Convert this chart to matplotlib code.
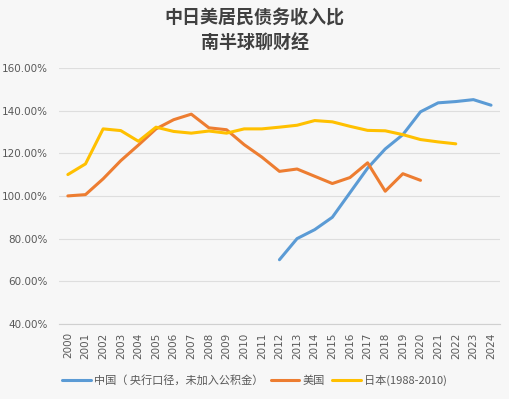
import numpy as np
import matplotlib.pyplot as plt

plt.rcParams['font.family'] = ['Noto Sans CJK SC', 'DejaVu Sans']

years = [str(y) for y in range(2000, 2025)]

# China from 2012, US to 2020, Japan to 2022
china = [None] * 12 + [70.1, 80.0, 84.2, 90.0, 101.5, 113.0, 122.0, 128.7, 139.4, 143.6, 144.2, 145.1, 142.5]
usa = [100.0, 100.6, 108.0, 116.5, 123.8, 131.4, 135.7, 138.3, 131.9, 131.0, 124.0, 118.2, 111.5, 112.6,
       109.2, 105.8, 108.6, 115.5, 102.2, 110.4, 107.3] + [None] * 4
japan = [110.0, 115.0, 131.4, 130.6, 125.6, 132.2, 130.2, 129.4, 130.4, 129.4, 131.4, 131.4, 132.2, 133.1,
         135.3, 134.7, 132.6, 130.7, 130.5, 128.7, 126.4, 125.3, 124.4] + [None] * 2

labels = ['中国（ 央行口径，未加入公积金）', '美国', '日本(1988-2010)']
colors = ['#5B9BD5', '#ED7D31', '#FFC000']


def arr(v):
    return np.array([np.nan if a is None else a for a in v], dtype=float)


fig = plt.figure(figsize=(5.09, 3.99), dpi=100)
fig.patch.set_facecolor('#F7F7F7')
ax = fig.add_axes([0.116, 0.188, 0.866, 0.642])
ax.set_facecolor('#F7F7F7')

x = np.arange(len(years))
for s, lab, c in zip([china, usa, japan], labels, colors):
    ax.plot(x, arr(s), color=c, lw=2.2, label=lab, solid_capstyle='round', solid_joinstyle='round')

ax.set_xlim(-0.5, len(years) - 0.5)
ax.set_ylim(40, 160)
ax.set_yticks(np.arange(40, 161, 20))
ax.set_yticklabels([f'{v:.2f}%' for v in np.arange(40, 161, 20)])
ax.set_xticks(x)
ax.set_xticklabels(years, rotation=90)
ax.tick_params(axis='both', length=0, labelsize=7.5, colors='#595959')
ax.tick_params(axis='x', pad=6)
ax.tick_params(axis='y', pad=8)
for lbl in ax.get_yticklabels() + ax.get_xticklabels():
    lbl.set_family(['DejaVu Sans'])

ax.grid(axis='y', color='#DEDEDE', lw=0.8)
ax.set_axisbelow(True)
for sp in ['top', 'right', 'left']:
    ax.spines[sp].set_visible(False)
ax.spines['bottom'].set_color('#D0D0D0')

fig.text(0.5, 0.955, '中日美居民债务收入比', ha='center', va='center', fontsize=13, fontweight='bold', color='#404040')
fig.text(0.5, 0.89, '南半球聊财经', ha='center', va='center', fontsize=13, fontweight='bold', color='#404040')

fig.legend(loc='center', bbox_to_anchor=(0.5, 0.047), ncol=3, frameon=False, fontsize=8,
           handlelength=2.6, handletextpad=0.3, columnspacing=0.6, labelcolor='#595959')

fig.savefig('out.png', dpi=100, facecolor=fig.get_facecolor())
